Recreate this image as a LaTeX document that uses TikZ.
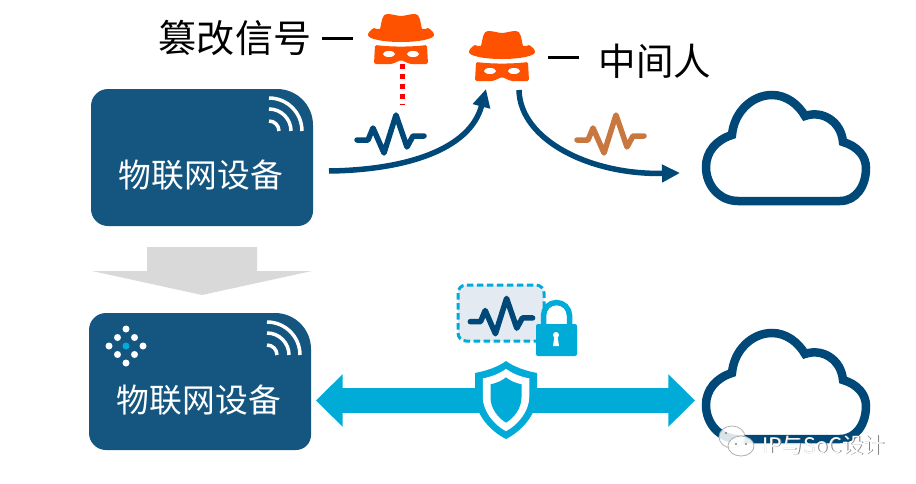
\documentclass[tikz,border=0pt]{standalone}
\usepackage{fontspec}
\setmainfont{Noto Sans CJK SC}
\usetikzlibrary{arrows.meta}
\newcommand{\pxu}{0.3mm}
\definecolor{devblue}{HTML}{14567F}
\definecolor{linkblue}{HTML}{004878}
\definecolor{safecyan}{HTML}{00ABD8}
\definecolor{hatorange}{HTML}{FF5200}
\definecolor{badpulse}{HTML}{C8773F}
\definecolor{palebox}{HTML}{E4EAF1}
\definecolor{greyarrow}{HTML}{D9D9D9}
\tikzset{
  devlabel/.style={text=white,font=\fontsize{28}{30}\selectfont,inner sep=0pt},
  blacklabel/.style={text=black,font=\fontsize{32}{34}\selectfont,inner sep=0pt},
  dashline/.style={black,line width=3*\pxu},
  linkarrow/.style={linkblue,line width=5.5*\pxu},
  pics/hat/.style={code={
    \fill[hatorange] (-21,-6) .. controls (-19,-14) and (-19,-21) .. (-14,-21) .. controls (-8,-21) and (-4,-19) .. (0,-19) .. controls (4,-19) and (8,-21) .. (14,-21) .. controls (19,-21) and (19,-14) .. (21,-6) .. controls (24,-5) and (26,-7) .. (27,-7) .. controls (31,-5) and (33,-2) .. (33,0) .. controls (33,4) and (18,7) .. (0,7) .. controls (-18,7) and (-33,4) .. (-33,0) .. controls (-33,-2) and (-31,-5) .. (-27,-7) .. controls (-26,-7) and (-24,-5) .. (-21,-6) -- cycle;
    \fill[hatorange,rounded corners=1.5*\pxu] (-26,10) .. controls (-10,12) and (10,12) .. (26,10) -- (27,29) -- (9,29) -- (0,25) -- (-9,29) -- (-27,29) -- cycle;
    \fill[white] (-12,19) ellipse (6 and 3);
    \fill[white] (12,19) ellipse (6 and 3);
  }},
  pics/pulse/.style={code={
    \draw[#1,line width=5.5*\pxu,line cap=round,line join=round] (-33,5) -- (-22,5) -- (-17,-7) -- (-6,18) -- (6,-20) -- (17,12) -- (23,1) -- (34,1);
  }},
  pics/cloudicon/.style={code={
    \draw[linkblue,line width=8.5*\pxu] (-48,53) .. controls (-66,53) and (-80,38) .. (-80,19) .. controls (-80,4) and (-70,-8) .. (-54,-13) .. controls (-52,-36) and (-34,-53) .. (-14,-53) .. controls (0,-53) and (12,-44) .. (19,-32) .. controls (36,-38) and (55,-27) .. (57,-6) .. controls (71,-2) and (80,8) .. (80,20) .. controls (80,38) and (70,53) .. (54,53) -- cycle;
  }},
  pics/device/.style={code={
    \fill[devblue] (17,0) -- (186,0) arc[start angle=-90,end angle=0,radius=36] -- (222,122) arc[start angle=0,end angle=90,radius=15] -- (17,137) arc[start angle=90,end angle=180,radius=17] -- (0,17) arc[start angle=180,end angle=270,radius=17] -- cycle;
    \foreach \r in {10,22,33} {
      \draw[white,line width=3.5*\pxu] (178,42-\r) arc[start angle=-90,end angle=0,radius=\r];
    }
  }},
  pics/shield/.style={code={
    \fill[#1] (0,-39) .. controls (8,-33) and (20,-29) .. (31,-27) -- (31,-4) .. controls (31,14) and (16,31) .. (0,39) .. controls (-16,31) and (-31,14) .. (-31,-4) -- (-31,-27) .. controls (-20,-29) and (-8,-33) .. (0,-39) -- cycle;
  }}
}

\begin{document}
\begin{tikzpicture}[x=\pxu,y=-\pxu]
\useasboundingbox (0,0) rectangle (916,484);
%top row
\pic at (91,89) {device};
\node[devlabel] (dev1) at (201,175) {物联网设备};
\pic at (786,148) {cloudicon};
\coordinate (hat1) at (401,35);
\coordinate (hat2) at (502,52);
\pic at (hat1) {hat};
\pic at (hat2) {hat};
\node[blacklabel,font=\fontsize{32.5}{34}\selectfont] (tamper) at (235,38) {篡改信号};
\node[blacklabel] (mitm) at (655,61) {中间人};
\coordinate (dash1a) at (322,38);
\coordinate (dash1b) at (353,38);
\coordinate (dash2a) at (548,57);
\coordinate (dash2b) at (579,57);
\draw[dashline] (dash1a) -- (dash1b);
\draw[dashline] (dash2a) -- (dash2b);
\coordinate (chin) at (402,64);
\coordinate (tap) at (402,105);
\draw[red,line width=5*\pxu,dash pattern=on 1.5mm off 1.5mm] (chin) -- (tap);
\pic at (390,135) {pulse=linkblue};
\pic at (610,135) {pulse=badpulse};
\coordinate (out1) at (329,171);
\coordinate (in1) at (486,89);
\coordinate (out2) at (519,90);
\coordinate (in2) at (680,173);
\draw[linkarrow,-{Triangle[length=5.4mm,width=5.1mm]}] (out1) .. controls (405,170) and (470,150) .. (in1);
\draw[linkarrow,-{Triangle[length=5.4mm,width=5.1mm]}] (out2) .. controls (520,140) and (590,175) .. (in2);
%down arrow
\fill[greyarrow] (147,247) -- (257,247) -- (257,271) -- (312,271) -- (202,295) -- (92,271) -- (147,271) -- cycle;
%bottom row
\pic at (89,313) {device};
\node[devlabel] (dev2) at (199,400) {物联网设备};
\foreach \dx/\dy in {0/-17,-8.5/-8.5,8.5/-8.5,-17/0,17/0,-8.5/8.5,8.5/8.5,0/17} {
  \fill[white] (126+\dx,346+\dy) circle (3.5);
}
\fill[safecyan] (126,346) circle (3.5);
\pic at (786,386) {cloudicon};
\coordinate (linkl) at (316,400.5);
\coordinate (linkr) at (695,400.5);
\draw[safecyan,line width=25*\pxu,{Triangle[length=8mm,width=15.3mm]}-{Triangle[length=8mm,width=15.3mm]}] (linkl) -- (linkr);
\pic at (506,400) {shield=safecyan};
\pic[xscale=.75,yscale=.8] at (506,400) {shield=white};
\pic[xscale=.5,yscale=.58] at (506,400) {shield=safecyan};
%signal in a lock
\draw[safecyan,fill=palebox,line width=3*\pxu,dash pattern=on 2mm off 1mm,rounded corners=2.4mm] (458,285) rectangle (544,341);
\pic[scale=.93] at (501,317) {pulse=linkblue};
\draw[safecyan,line width=5.5*\pxu] (543.5,326) -- (543.5,315.5) arc[start angle=180,end angle=360,radius=13] -- (569.5,326);
\fill[safecyan,rounded corners=.6mm] (536,324) rectangle (577,356);
\fill[white] (556,335) circle (3);
\fill[white] (554.5,336) -- (557.5,336) -- (559,346) -- (553,346) -- cycle;
%watermark
\fill[white,draw=gray!70,line width=.8*\pxu,opacity=.85] (732,437) ellipse (13 and 11);
\fill[white,draw=gray!70,line width=.8*\pxu,opacity=.9] (741,446) ellipse (13 and 10);
\fill[gray] (726,433) circle (1.2);
\fill[gray] (736,444) circle (1.2);
\fill[gray] (746,444) circle (1.2);
\node[text=gray,font=\fontsize{18.2}{20}\selectfont,inner sep=0pt] (markshadow) at (824.4,445.9) {IP与SoC设计};
\node[text=white,font=\fontsize{18.2}{20}\selectfont,inner sep=0pt] (mark) at (823.5,445) {IP与SoC设计};
\end{tikzpicture}
\end{document}
